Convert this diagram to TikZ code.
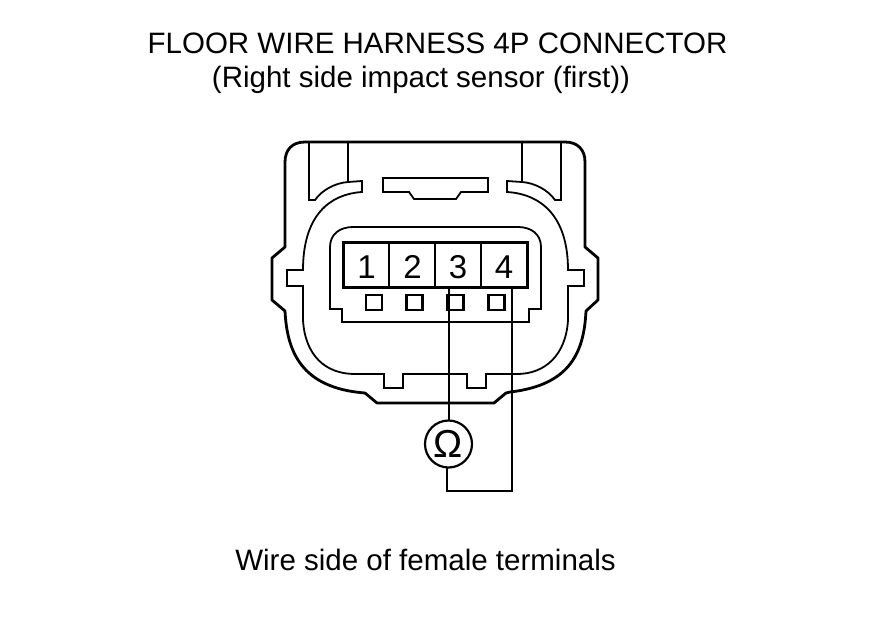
\documentclass[tikz,border=0pt]{standalone}
\usepackage{fontspec}
\setmainfont{Liberation Sans}
\tikzset{
  txt/.style={inner sep=0pt,font=\fontsize{29.5}{32}\selectfont,anchor=base},
  thick shell/.style={line width=2.8pt,line join=round},
  thin shell/.style={line width=1.8pt,line join=miter},
  wire/.style={line width=2.2pt},
  digit/.style={inner sep=0pt,font=\fontsize{33}{36}\selectfont,anchor=base},
  pin/.style={draw,line width=2.3pt,minimum width=16pt,minimum height=15pt,inner sep=0pt}
}
\begin{document}
\begin{tikzpicture}[x=1pt,y=-1pt]
\useasboundingbox[fill=white] (0,0) rectangle (880,630);
\node[txt] (title1) at (437.5,53) {FLOOR WIRE HARNESS 4P CONNECTOR};
\node[txt] (title2) at (421,87.5) {(Right side impact sensor (first))};
\node[txt] (caption) at (425.5,570.5) {Wire side of female terminals};
% outer shell
\draw[thick shell] (305,142) -- (565,142) .. controls (578,142) and (585,150) .. (585,162)
  -- (585,247) -- (598,258) -- (598,300) -- (586,311)
  .. controls (584,350) and (572,385) .. (510,392) -- (506,393) -- (494,403) -- (377,403) -- (365,393)
  .. controls (300,388) and (287,350) .. (285,311) -- (272,300) -- (272,258) -- (285,247)
  -- (285,162) .. controls (285,150) and (292,142) .. (305,142) -- cycle;
% inner shell
\draw[thin shell] (309,142) -- (309,200) -- (315,200) .. controls (322,190) and (335,183) .. (348,182) -- (362,181) -- (362,192)
  .. controls (330,194) and (303,215) .. (303,270) -- (287,270) -- (287,286) -- (303,286) -- (303,320)
  .. controls (305,355) and (325,374) .. (355,374) -- (384,374) -- (384,388) -- (403,388) -- (403,374) -- (467,374)
  -- (467,388) -- (486,388) -- (486,374) -- (517,374)
  .. controls (545,374) and (566,355) .. (568,320) -- (568,286) -- (584,286) -- (584,270) -- (568,270)
  .. controls (568,215) and (540,194) .. (507,192) -- (507,181) -- (522,182) .. controls (535,183) and (548,190) .. (555,200) -- (561,200) -- (561,142);
\draw[thin shell] (348,142) -- (348,182);
\draw[thin shell] (522,142) -- (522,182);
% centre key
\draw[thin shell] (383,178) -- (488,178) -- (488,192) -- (461,192) -- (456,199) -- (414,199) -- (409,192) -- (383,192) -- cycle;
% inner housing
\draw[thin shell] (330,309) -- (330,247) .. controls (330,234) and (340,227) .. (353,227) -- (518,227)
  .. controls (531,227) and (541,234) .. (541,247) -- (541,309) -- (529,309) -- (529,322) -- (342,322) -- (342,309) -- cycle;
% terminals
\draw[line width=3pt] (343,242) rectangle (527,287);
\draw[line width=2.2pt] (389,242) -- (389,287) (435,242) -- (435,287) (481,242) -- (481,287);
\node[digit] (n1) at (366.5,278) {1};
\node[digit] (n2) at (412.5,278) {2};
\node[digit] (n3) at (458,278) {3};
\node[digit] (n4) at (504,278) {4};
\node[pin] (p1) at (374,302.5) {};
\node[pin] (p2) at (414.5,302.5) {};
\node[pin] (p3) at (455.5,302.5) {};
\node[pin] (p4) at (496.5,302.5) {};
% meter
\node[draw,circle,line width=2.2pt,minimum size=47pt,inner sep=0pt,font=\fontsize{39}{39}\selectfont] (ohm) at (448.5,444) {Ω};
\coordinate (t3) at (449,287);
\coordinate (t4) at (512,287);
\coordinate (c1) at (447,491);
\coordinate (c2) at (512,491);
\draw[wire] (t3) -- (449,420.5);
\draw[wire] (t4) -- (c2) -- (c1) -- (447,467.5);
\end{tikzpicture}
\end{document}
